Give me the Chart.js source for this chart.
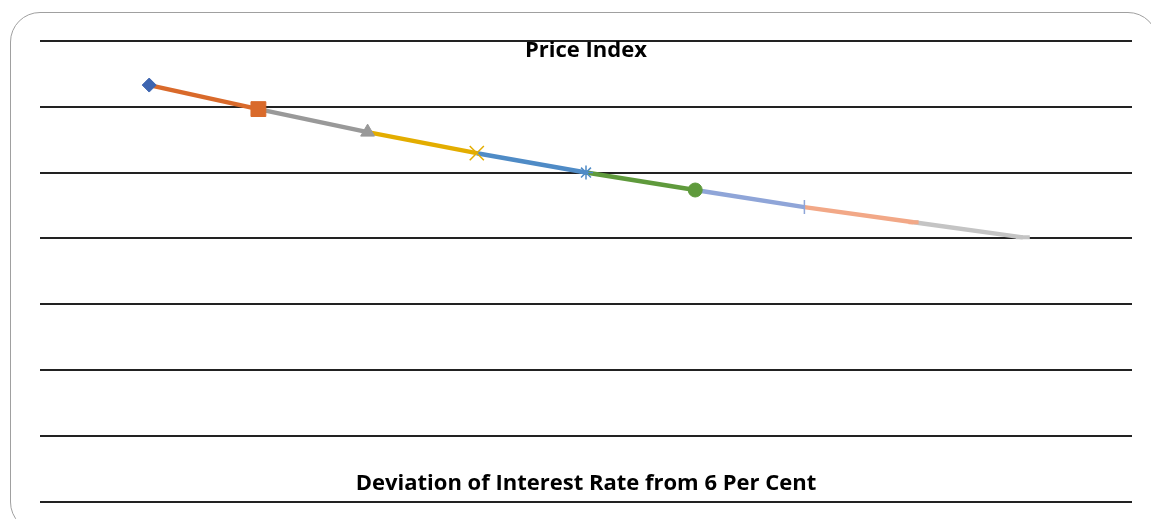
<!DOCTYPE html>
<html>
<head>
<meta charset="utf-8">
<script src="https://cdn.jsdelivr.net/npm/chart.js@4.4.1/dist/chart.umd.min.js"></script>
<style>
  html, body { margin: 0; padding: 0; background: #fff; overflow: hidden; }
  #wrap { position: relative; width: 1151px; height: 519px; overflow: hidden; }
  #frame {
    position: absolute; left: 10px; top: 12px; width: 1148px; height: 520px;
    border: 1.5px solid #a0a0a0; border-radius: 30px; box-sizing: border-box;
  }
  #priceChart { position: absolute; left: 0; top: 0; }
</style>
</head>
<body>
<div id="wrap">
  <div id="frame"></div>
  <canvas id="priceChart" width="1151" height="519"></canvas>
</div>
<script>
// deviation of the interest rate (x) and the price index (y)
const deviations = [-4, -3, -2, -1, 0, 1, 2, 3, 4];
const priceIndex = [126.6, 119.3, 112.3, 105.9, 100, 94.7, 89.5, 84.9, 80.3];

const yTitle = 'Price Index';
const xTitle = 'Deviation of Interest Rate from 6 Per Cent';

// one colour per point, excel "vary colours by point"
const pointColors = ['#3d65b0', '#d96a2b', '#999999', '#e3ad00', '#4f8bc6', '#5f9a3c', '#8fa5d8', '#f2a887', '#c4c4c4'];
const pointStyles = ['rectRot', 'rect', 'triangle', 'crossRot', 'star', 'circle', 'line', 'line', 'line'];
const pointSizes = [7, 10.5, 8, 10, 7, 7, 7, 5, 7];
const pointRotations = [0, 0, 0, 0, 0, 0, 90, 0, 0];
const pointBorders = [1, 1, 1, 1.5, 1.5, 1, 1.5, 4, 4];

// titles sit inside the plot area, like the original
const insideTitles = {
    id: 'insideTitles',
    afterDraw(chart) {
        const { ctx, chartArea } = chart;
        const mid = (chartArea.left + chartArea.right) / 2;
        ctx.save();
        ctx.fillStyle = '#000';
        ctx.font = 'bold 22px "Open Sans"';
        ctx.textAlign = 'center';
        ctx.textBaseline = 'middle';
        ctx.fillText(yTitle, mid, chartArea.top + 10);
        ctx.fillText(xTitle, mid, chartArea.bottom - 18);
        ctx.restore();
    }
};

new Chart(document.getElementById('priceChart'), {
    type: 'line',
    data: {
        datasets: [{
            data: deviations.map((d, i) => ({ x: d, y: priceIndex[i] })),
            borderWidth: 4.5,
            borderColor: pointColors[0],
            segment: {
                borderColor: ctx => pointColors[ctx.p1DataIndex]
            },
            pointStyle: pointStyles,
            pointRadius: pointSizes,
            pointRotation: pointRotations,
            pointBackgroundColor: pointColors,
            pointBorderColor: pointColors,
            pointBorderWidth: pointBorders,
            tension: 0
        }]
    },
    options: {
        responsive: false,
        animation: false,
        layout: { padding: { left: 40, right: 19, top: 41, bottom: 17.5 } },
        plugins: {
            legend: { display: false },
            tooltip: { enabled: false }
        },
        scales: {
            x: { type: 'linear', min: -5, max: 5, display: false },
            y: {
                min: 0, max: 140,
                ticks: { display: false, stepSize: 20 },
                grid: { color: '#222', lineWidth: 2, drawTicks: false },
                border: { display: false },
                afterFit: s => { s.width = 0; }
            }
        }
    },
    plugins: [insideTitles]
});
</script>
</body>
</html>
